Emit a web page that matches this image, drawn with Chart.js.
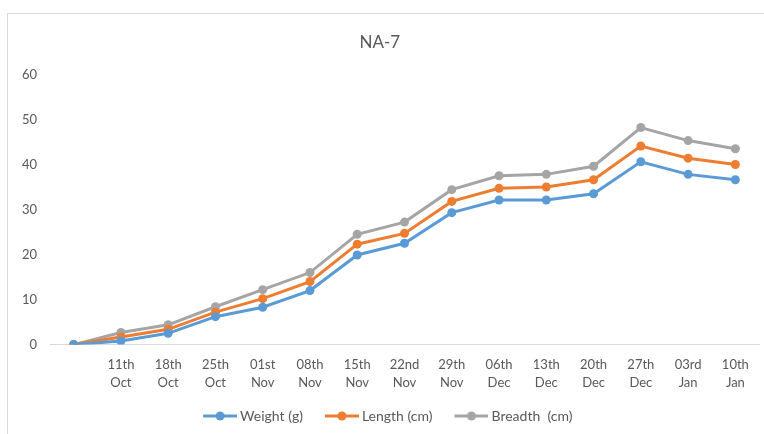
<!DOCTYPE html>
<html>
<head>
<meta charset="utf-8">
<script src="https://cdn.jsdelivr.net/npm/chart.js@4/dist/chart.umd.min.js"></script>
<style>
  html, body { margin: 0; padding: 0; background: #fff; overflow: hidden; }
  .frame {
    position: absolute; left: 7px; top: 13px; width: 900px; height: 600px;
    border-left: 1px solid #d9d9d9; border-top: 1px solid #d9d9d9;
  }
  .wrap { position: absolute; left: 0; top: 0; width: 764px; height: 434px; }
</style>
</head>
<body>
<div class="frame"></div>
<div class="wrap"><canvas id="chart" width="764" height="434"></canvas></div>
<script>
const categories = [
  "", ["11th", "Oct"], ["18th", "Oct"], ["25th", "Oct"], ["01st", "Nov"],
  ["08th", "Nov"], ["15th", "Nov"], ["22nd", "Nov"], ["29th", "Nov"],
  ["06th", "Dec"], ["13th", "Dec"], ["20th", "Dec"], ["27th", "Dec"],
  ["03rd", "Jan"], ["10th", "Jan"]
];
const weight  = [0, 0.8, 2.5, 6.2, 8.3, 12.0, 19.9, 22.5, 29.3, 32.1, 32.1, 33.5, 40.6, 37.8, 36.6];
const length  = [0, 1.7, 3.4, 7.2, 10.2, 14.0, 22.3, 24.7, 31.8, 34.7, 35.0, 36.6, 44.1, 41.4, 40.0];
const breadth = [0, 2.7, 4.4, 8.4, 12.2, 16.0, 24.5, 27.2, 34.4, 37.5, 37.8, 39.6, 48.2, 45.3, 43.5];
const yTicks = [0, 10, 20, 30, 40, 50, 60];

const textColor = "#595959";
const fontFamily = "Lato, 'Open Sans', sans-serif";

// legend marker: line + dot sitting at the right end of a wider, mostly
// transparent canvas so the gap before the next item matches the original
const markerW = 54;
const legendBoxW = 46;
function legendMarker(color) {
  const c = document.createElement("canvas");
  c.width = markerW; c.height = 10;
  const g = c.getContext("2d");
  const x0 = markerW - 34;
  g.strokeStyle = color; g.lineWidth = 3;
  g.beginPath(); g.moveTo(x0, 5); g.lineTo(markerW, 5); g.stroke();
  g.fillStyle = color;
  g.beginPath(); g.arc(x0 + 17, 5, 4.5, 0, Math.PI * 2); g.fill();
  return c;
}

function series(label, data, color) {
  return {
    label, data,
    borderColor: color, backgroundColor: color,
    borderWidth: 3, pointRadius: 4.5, pointHoverRadius: 5,
    pointBorderWidth: 0, tension: 0,
    pointStyle: "circle"
  };
}

new Chart(document.getElementById("chart"), {
  type: "line",
  data: {
    labels: categories,
    datasets: [
      series("Weight (g)", weight, "#5B9BD5"),
      series("Length (cm)", length, "#ED7D31"),
      series("Breadth  (cm)", breadth, "#A5A5A5")
    ]
  },
  options: {
    responsive: false,
    animation: false,
    layout: { padding: { left: 0, right: 4.5, top: 0, bottom: 1 } },
    plugins: {
      title: {
        display: true, text: "NA-7", color: textColor,
        font: { family: fontFamily, size: 17, weight: "normal" },
        padding: { top: 32, bottom: 22 }
      },
      legend: {
        position: "bottom",
        labels: {
          color: textColor,
          font: { family: fontFamily, size: 14 },
          usePointStyle: true, pointStyleWidth: legendBoxW, padding: 6,
          generateLabels: (chart) => chart.data.datasets.map((ds, i) => ({
            text: ds.label, datasetIndex: i, fontColor: textColor,
            pointStyle: legendMarker(ds.borderColor), lineWidth: 0,
            strokeStyle: ds.borderColor, fillStyle: ds.borderColor
          }))
        }
      },
      tooltip: { enabled: false }
    },
    scales: {
      x: {
        offset: true,
        grid: { display: false, drawTicks: false },
        border: { display: true, color: "#d9d9d9", width: 1 },
        ticks: {
          color: textColor, padding: 11, maxRotation: 0, autoSkip: false,
          font: { family: fontFamily, size: 13, lineHeight: 1.4 }
        }
      },
      y: {
        min: 0, max: 60,
        afterFit: (scale) => { scale.width = 50; },
        afterBuildTicks: (scale) => { scale.ticks = yTicks.map(v => ({ value: v })); },
        grid: { display: false, drawTicks: false },
        border: { display: false },
        ticks: {
          color: textColor, padding: 13,
          font: { family: fontFamily, size: 13 }
        }
      }
    }
  }
});
</script>
</body>
</html>
